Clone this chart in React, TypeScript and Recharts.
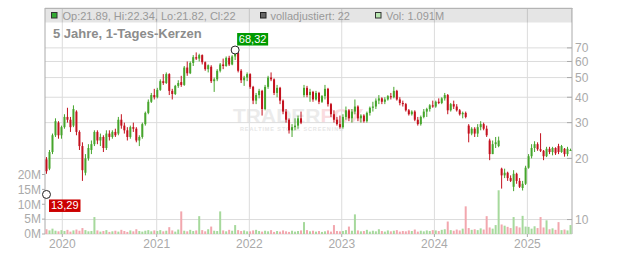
import React from 'react';
import { ComposedChart, Bar, XAxis, YAxis, CartesianGrid, ReferenceDot } from 'recharts';

type Candle = [number, number, number, number]; // open, high, low, close

const candles2019: Candle[] = [
  [19.8, 20.3, 16.8, 17.3], [17.8, 22, 17.5, 21.5], [21.5, 26.5, 21, 26], [26, 31.5, 25.5, 30.5],
  [30, 30.5, 25, 26], [26, 29, 25, 28.5],
];
const candles2020: Candle[] = [
  [28.5, 33, 28, 32], [32, 35.5, 30, 31], [31, 32, 27, 28.5], [29, 36.5, 28.5, 35], [34, 34.5, 26, 27],
  [27, 27.5, 22, 23], [23, 24, 15.5, 17.5], [17, 21, 16.5, 20], [20, 23.5, 19.5, 22.5], [22, 24.5, 21, 23.5],
  [23.5, 27.5, 23, 27], [27, 27.5, 23.5, 24.5], [24.5, 26.5, 23, 25.5], [25.5, 26, 21.5, 22.5], [22.5, 27.5, 22, 26.5],
  [26.5, 27.5, 24.5, 25.5], [25.5, 27.5, 25, 27], [27, 28, 25.5, 26], [26.5, 32, 26, 31], [31, 33, 28, 29],
  [29, 30, 26.5, 27.5], [27.5, 28.5, 24.5, 25.5], [25.5, 29, 25, 28.5], [28.5, 30, 27, 28], [28, 28.5, 24, 24.5],
  [24.5, 26, 23, 25.5], [25.5, 30, 25, 29.5], [29.5, 34, 29, 33.5], [33.5, 39, 33, 38], [38, 42, 37.5, 41],
  [41, 44, 39, 40],
];
const candles2021: Candle[] = [
  [40, 44.5, 39.5, 43.5], [43.5, 49, 43, 48], [48, 52, 46, 47], [47, 53, 46.5, 52], [52, 52.5, 41, 43],
  [43, 44, 39, 41.5], [41.5, 46, 41, 45.5], [45.5, 48.5, 44.5, 47], [47.5, 51, 45, 46], [46, 57, 45.5, 56],
  [56, 60, 51, 52.5], [52.5, 60, 52, 59], [59, 64.5, 57, 63], [63, 66.5, 61, 62], [62, 65.5, 60, 64.5],
  [64.5, 65, 58, 59.5], [59.5, 60, 54, 55], [55, 58, 53, 57.5], [56.5, 57.5, 47, 48], [48, 50, 42.5, 49],
  [49, 55, 48, 54], [54, 59, 53, 58], [58, 62, 55, 57], [57, 63.5, 56.5, 62.5], [62.5, 64, 57, 58],
  [58, 64.5, 57.5, 63.5], [63.5, 68.32, 61, 66], [66, 66.5, 53, 54], [54, 55, 47, 48.5], [48.5, 51, 45.5, 50],
  [50, 53, 48, 52],
];
const candles2022: Candle[] = [
  [52, 52.5, 44, 45], [45, 45.5, 37, 38.5], [38.5, 42, 37, 41], [41, 44, 39.5, 43], [43, 43.5, 32.5, 35],
  [35, 46, 34.5, 45], [45, 51, 44, 50], [50, 53, 48, 49], [49, 49.5, 41, 42], [42, 46, 40, 44.5],
  [44.5, 45, 37, 38.5], [38.5, 39, 33, 34], [34, 35, 30, 31], [31, 31.5, 26.5, 27.5], [27.5, 29.5, 25.5, 28.5],
  [28.5, 31.5, 27.5, 29], [29, 32.5, 28, 31.5], [31.5, 34, 29.5, 30], [41, 46, 40, 44.5], [44.5, 45.5, 40, 41],
  [41, 44, 38, 42.5], [42.5, 43, 38, 39], [39, 43, 38.5, 42], [42, 42.5, 37, 38], [38, 41, 37.5, 40.5],
  [40.5, 46, 39, 44], [44, 44.5, 36, 37], [37, 37.5, 32, 33], [33, 34.5, 30, 31], [31, 32, 29, 29.5],
  [29.5, 32.5, 28, 28.5],
];
const candles2023: Candle[] = [
  [28.5, 33, 28, 32], [32, 36, 31, 34.5], [34.5, 35, 30.5, 31.5], [31.5, 35, 30, 34], [34, 39, 33, 36],
  [36, 36.5, 30.5, 31.5], [31.5, 33, 30, 32.5], [32.5, 33, 30, 30.5], [30.5, 34, 30, 33.5], [33.5, 36, 32.5, 35.5],
  [35.5, 38, 34, 36], [36, 39.5, 35, 38.5], [38.5, 41, 37, 39.5], [39.5, 40, 37, 38], [38, 40, 37, 39],
  [39, 41, 38.5, 40.5], [40.5, 42, 39, 40], [40, 45, 39.5, 43], [43, 43.5, 38.5, 39], [39, 40, 36.5, 37.5],
  [37.5, 38.5, 36, 37], [37, 37.5, 34, 34.5], [34.5, 35, 32.5, 33], [33, 34.5, 32.5, 34], [34, 34.5, 30.5, 31],
  [31, 32, 29, 29.5], [29.5, 32.5, 29, 32], [32, 35, 31.5, 34], [34, 35.5, 32, 35], [35, 37, 34, 36.5],
  [36.5, 38.5, 35.5, 36],
];
const candles2024: Candle[] = [
  [36, 38.5, 35.5, 38], [38, 39.5, 37, 37.5], [37.5, 40, 37, 39.5], [39.5, 42, 38.5, 41], [41, 41.5, 33, 34.5],
  [34.5, 37.5, 34, 37], [37, 38.5, 35, 36], [36, 37, 34, 34.5], [34.5, 35, 32.5, 33], [33, 34, 31.5, 33.5],
  [33.5, 34, 31.5, 32], [29, 29.5, 24, 26.5], [26.5, 28.5, 26, 28], [28, 28.5, 25.5, 26.5], [26.5, 29.5, 25.5, 28.5],
  [28.5, 30.5, 27.5, 29.5], [29.5, 30, 27.5, 28], [28, 29, 25.5, 26], [24.5, 25, 19.6, 21], [21, 24.5, 21, 23.5],
  [23.5, 25.5, 22.5, 24], [23, 25.6, 22.7, 24.5], [17.8, 18, 14.2, 16.5], [16.5, 17.8, 16, 17], [17, 17.2, 15.5, 16],
  [16, 16.5, 15.3, 15.5], [14.5, 17.5, 13.8, 16.8], [16.8, 17, 15, 15.5], [15.5, 16, 14.3, 14.5], [14.3, 15.5, 13.9, 15],
  [15, 18.4, 14.8, 18],
];
const candles2025: Candle[] = [
  [18, 21, 17.8, 20.5], [20.5, 23.5, 20, 22.5], [22.5, 24.3, 21.5, 23.5], [23.5, 24, 21.8, 22.2], [22.2, 26.6, 21.5, 21.8],
  [21.8, 22, 19.6, 20.5], [20.5, 22.8, 20.3, 22.3], [22.3, 22.8, 21, 21.5], [21.5, 22.8, 20.7, 22.5], [22.5, 22.7, 20.8, 21.2],
  [23, 23.6, 21, 21.5], [21.5, 23.3, 21.3, 23], [22.3, 22.5, 20.4, 21], [21, 22.8, 20.5, 22.3], [21.89, 22.34, 21.82, 22],
];

// volumes in millions
const volumes2019 = [1.6, 1.2, 1.8, 1.1, 0.9, 1.3];
const volumes2020 = [1.0, 1.4, 0.8, 1.2, 1.5, 1.1, 2.0, 1.3, 0.9, 1.0, 5.7, 1.2, 0.8, 1.0, 1.3, 0.7, 0.9, 1.1, 0.8, 1.4, 1.0, 0.7, 1.2, 0.9, 1.6, 1.0, 0.8, 1.1, 1.3, 0.9, 1.2];
const volumes2021 = [1.0, 1.3, 0.9, 1.1, 2.3, 1.2, 0.8, 1.5, 7.6, 1.1, 0.9, 1.4, 1.0, 1.2, 6.0, 1.3, 0.9, 1.6, 2.5, 1.1, 1.0, 7.6, 1.2, 0.9, 1.4, 1.1, 3.0, 1.3, 1.0, 1.2, 0.9];
const volumes2022 = [0.9, 1.2, 1.4, 1.0, 0.8, 1.1, 0.9, 1.3, 0.7, 1.0, 0.8, 1.2, 0.9, 0.7, 1.1, 0.8, 1.0, 1.2, 4.0, 1.3, 0.9, 1.1, 0.8, 1.0, 0.7, 0.9, 1.2, 0.8, 3.0, 1.0, 0.9];
const volumes2023 = [1.0, 1.3, 2.5, 1.1, 6.6, 1.2, 0.9, 1.0, 1.4, 0.8, 1.1, 0.9, 1.6, 1.0, 0.8, 1.2, 0.9, 1.1, 1.3, 0.8, 1.0, 0.9, 1.2, 1.0, 1.5, 0.8, 1.1, 0.9, 1.2, 1.0, 1.3];
const volumes2024 = [1.2, 1.0, 1.4, 1.6, 4.2, 1.3, 1.1, 1.5, 1.2, 1.8, 9.3, 2.0, 1.4, 1.6, 1.3, 1.9, 1.5, 6.0, 2.2, 1.8, 3.0, 14.7, 3.2, 2.8, 2.4, 2.0, 5.7, 2.6, 2.2, 6.1, 2.5];
const volumes2025 = [2.4, 1.8, 2.6, 2.0, 5.7, 2.2, 4.6, 1.6, 1.9, 1.4, 4.0, 1.3, 1.5, 1.2, 3.0];

// year labels and where each year begins, in candle-period units
const yearLabels = ['2020', '2021', '2022', '2023', '2024', '2025'];
const yearStarts = [5.28, 36.81, 67.74, 98.6, 129.55, 160.6];
const priceTicks = [10, 20, 30, 40, 50, 60, 70];
const priceDomain = [8.49, 110];
const volumeTicks = [0, 5e6, 10e6, 15e6, 20e6];
const volumeDomain = [0, 76e6];

const maxMark = { value: 68.32, label: '68,32' };
const minMark = { index: 0, value: 13.29, label: '13,29' };
const legendOHLC = 'Op:21.89, Hi:22.34, Lo:21.82, Cl:22';
const legendAdjusted = 'volladjustiert: 22';
const legendVolume = 'Vol: 1.091M';
const title = '5 Jahre, 1-Tages-Kerzen';

const UP = '#46a52c';
const DOWN = '#c3111e';
const VOL_UP = '#a6d99c';
const VOL_DOWN = '#f2a7ae';
const AXIS = '#aaa';
const GRID = '#dcdcdc';

const W = 632;
const H = 253;
const PLOT_TOP = 8;
const LEFT_AXIS_W = 45;
const RIGHT_AXIS_W = 60;
const BOTTOM_AXIS_H = 19;

const allCandles = [...candles2019, ...candles2020, ...candles2021, ...candles2022, ...candles2023, ...candles2024, ...candles2025];
const allVolumes = [...volumes2019, ...volumes2020, ...volumes2021, ...volumes2022, ...volumes2023, ...volumes2024, ...volumes2025];

const data = allCandles.map(([o, h, l, c], i) => ({
  k: i,
  o, h, l, c,
  range: [l, h],
  v: (allVolumes[i] ?? 0) * 1e6,
}));

const maxIdx = data.reduce((best, d, i) => (d.h > data[best].h ? i : best), 0);

const CandleShape = (props: any) => {
  const { x, y, width, height, payload } = props;
  if (!payload || !isFinite(y) || !isFinite(height)) return null;
  const { o, h, l, c } = payload;
  const lh = Math.log(h);
  const ll = Math.log(l);
  const py = (v: number) => (lh === ll ? y : y + (height * (lh - Math.log(v))) / (lh - ll));
  const up = c >= o;
  const color = up ? UP : DOWN;
  const cx = x + width / 2;
  const top = py(Math.max(o, c));
  const bot = py(Math.min(o, c));
  return (
    <g>
      <line x1={cx} x2={cx} y1={y} y2={y + height} stroke={color} strokeWidth={1} />
      <rect x={cx - 1} y={top} width={2} height={Math.max(bot - top, 1)} fill={color} />
    </g>
  );
};

const VolumeShape = (props: any) => {
  const { x, y, width, height, payload } = props;
  if (!payload || !isFinite(y) || height <= 0) return null;
  const up = payload.c >= payload.o;
  const cx = x + width / 2;
  return <rect x={cx - 1} y={y} width={2} height={height} fill={up ? VOL_UP : VOL_DOWN} />;
};

const PriceTick = (props: any) => {
  const { x, y, payload } = props;
  return (
    <g>
      <line x1={x - 8} x2={x - 3} y1={y} y2={y} stroke={AXIS} />
      <text x={x} y={y} dy="0.355em" fill={AXIS} fontSize={12} textAnchor="start">
        {payload.value}
      </text>
    </g>
  );
};

const yearFormatter = (v: number) => {
  const i = yearStarts.indexOf(v);
  return i >= 0 ? yearLabels[i] : '';
};

// year tick: full-height grid line, short tick mark and label
const YearTick = (props: any) => {
  const { x, y, payload } = props;
  const axisY = y - 5;
  return (
    <g>
      <line x1={x} x2={x} y1={PLOT_TOP} y2={axisY} stroke={GRID} />
      <line x1={x} x2={x} y1={axisY} y2={axisY + 3} stroke={AXIS} />
      <text x={x} y={y} dy="0.71em" fill={AXIS} fontSize={12} textAnchor="middle">
        {yearFormatter(payload.value)}
      </text>
    </g>
  );
};

const MaxMarker = (props: any) => {
  const { cx, cy } = props;
  return (
    <g>
      <circle cx={cx} cy={cy} r={4} fill="#fff" stroke="#222" strokeWidth={1} />
      <rect x={cx + 2} y={cy - 17} width={31} height={12.5} fill="#009a00" />
      <text x={cx + 17.5} y={cy - 7} textAnchor="middle" fill="#fff" fontSize={11}>
        {maxMark.label}
      </text>
    </g>
  );
};

const MinMarker = (props: any) => {
  const { cx, cy } = props;
  return (
    <g>
      <circle cx={cx} cy={cy} r={4} fill="#fff" stroke="#222" strokeWidth={1} />
      <rect x={cx + 2.5} y={cy + 5} width={31.5} height={12.5} fill="#cc0000" />
      <text x={cx + 18.25} y={cy + 15} textAnchor="middle" fill="#fff" fontSize={11}>
        {minMark.label}
      </text>
    </g>
  );
};

const layer: React.CSSProperties = { position: 'absolute', left: 0, top: 0 };

export default function App() {
  const font = '"Liberation Sans", Arial, sans-serif';
  return (
    <div style={{ position: 'absolute', left: 0, top: 0, width: W, height: H, background: '#fff', fontFamily: font }}>
      {/* watermark */}
      <svg width={W} height={H} style={layer}>
        <text x={233} y={123} fontSize={21} fontWeight="bold" fill="#ebebeb" fontFamily={font}>
          TRADER
          <tspan fill="#fadcdf">FOX</tspan>
        </text>
        <text x={240} y={131} fontSize={5.5} fontWeight="bold" fill="#e6e6e6" letterSpacing={0.9} fontFamily={font}>
          REALTIME STOCK SCREENING
        </text>
      </svg>

      {/* axes and grid */}
      <div style={layer}>
        <ComposedChart width={W} height={H} data={data} margin={{ top: PLOT_TOP, right: 0, bottom: 0, left: 0 }}>
          <CartesianGrid yAxisId="price" stroke={GRID} vertical={false} />
          <XAxis
            xAxisId={0}
            dataKey="k"
            type="number"
            domain={[-0.5, data.length - 0.5]}
            allowDataOverflow
            ticks={yearStarts}
            interval={0}
            height={BOTTOM_AXIS_H}
            tickSize={3}
            tickMargin={2}
            axisLine={false}
            tickLine={false}
            tick={(p: any) => <YearTick {...p} />}
          />
          <YAxis
            yAxisId="price"
            orientation="right"
            type="number"
            scale="log"
            domain={priceDomain}
            allowDataOverflow
            ticks={priceTicks}
            interval={0}
            width={RIGHT_AXIS_W}
            tickSize={0}
            tickMargin={3}
            axisLine={{ stroke: AXIS }}
            tickLine={false}
            tick={(p: any) => <PriceTick {...p} />}
          />
          <YAxis
            yAxisId="vol"
            orientation="left"
            type="number"
            domain={volumeDomain}
            allowDataOverflow
            ticks={volumeTicks}
            interval={0}
            width={LEFT_AXIS_W}
            tickSize={3}
            tickMargin={1}
            axisLine={{ stroke: AXIS }}
            tickLine={{ stroke: AXIS }}
            tick={{ fill: AXIS, fontSize: 12 }}
            tickFormatter={(v: number) => `${v / 1e6}M`}
          />
        </ComposedChart>
      </div>

      {/* candles, volume and markers */}
      <div style={layer}>
        <ComposedChart
          width={W}
          height={H}
          data={data}
          margin={{ top: PLOT_TOP, right: RIGHT_AXIS_W, bottom: BOTTOM_AXIS_H, left: LEFT_AXIS_W }}
          barCategoryGap={0}
          barGap={0}
        >
          <XAxis xAxisId="c1" dataKey="k" type="category" hide height={0} />
          <XAxis xAxisId="c2" dataKey="k" type="category" hide height={0} />
          <YAxis yAxisId="price" type="number" scale="log" domain={priceDomain} allowDataOverflow hide width={0} />
          <YAxis yAxisId="vol" type="number" domain={volumeDomain} allowDataOverflow hide width={0} />
          <Bar xAxisId="c2" yAxisId="vol" dataKey="v" shape={VolumeShape} isAnimationActive={false} />
          <Bar xAxisId="c1" yAxisId="price" dataKey="range" shape={CandleShape} isAnimationActive={false} />
          <ReferenceDot
            xAxisId="c1"
            yAxisId="price"
            x={minMark.index}
            y={minMark.value}
            ifOverflow="visible"
            shape={MinMarker}
          />
          <ReferenceDot
            xAxisId="c1"
            yAxisId="price"
            x={maxIdx}
            y={maxMark.value}
            ifOverflow="visible"
            shape={MaxMarker}
          />
        </ComposedChart>
      </div>

      {/* header bar, legend and title */}
      <svg width={W} height={H} style={{ ...layer, pointerEvents: 'none' }}>
        <rect x={45.5} y={8.5} width={526.5} height={14} fill="rgba(0,0,0,0.1)" />
        <line x1={45} x2={572.5} y1={8.5} y2={8.5} stroke="#b4b4b4" />
        <rect x={51.5} y={12.5} width={5.5} height={5.5} fill="#33aa33" stroke="#333" />
        <text x={62.5} y={19.5} fontSize={11} fill="#999" fontFamily={font}>{legendOHLC}</text>
        <rect x={260.5} y={12.5} width={5.5} height={5.5} fill="#666" stroke="#222" />
        <text x={270.5} y={19.5} fontSize={11} fill="#999" fontFamily={font}>{legendAdjusted}</text>
        <rect x={375.5} y={12.5} width={5.5} height={5.5} fill="#b8e6b0" stroke="#333" />
        <text x={386} y={19.5} fontSize={11} fill="#999" fontFamily={font}>{legendVolume}</text>
        <text x={53} y={37.5} fontSize={13} fontWeight="bold" fill="#8c8c8c" fontFamily={font}>{title}</text>
      </svg>
    </div>
  );
}
